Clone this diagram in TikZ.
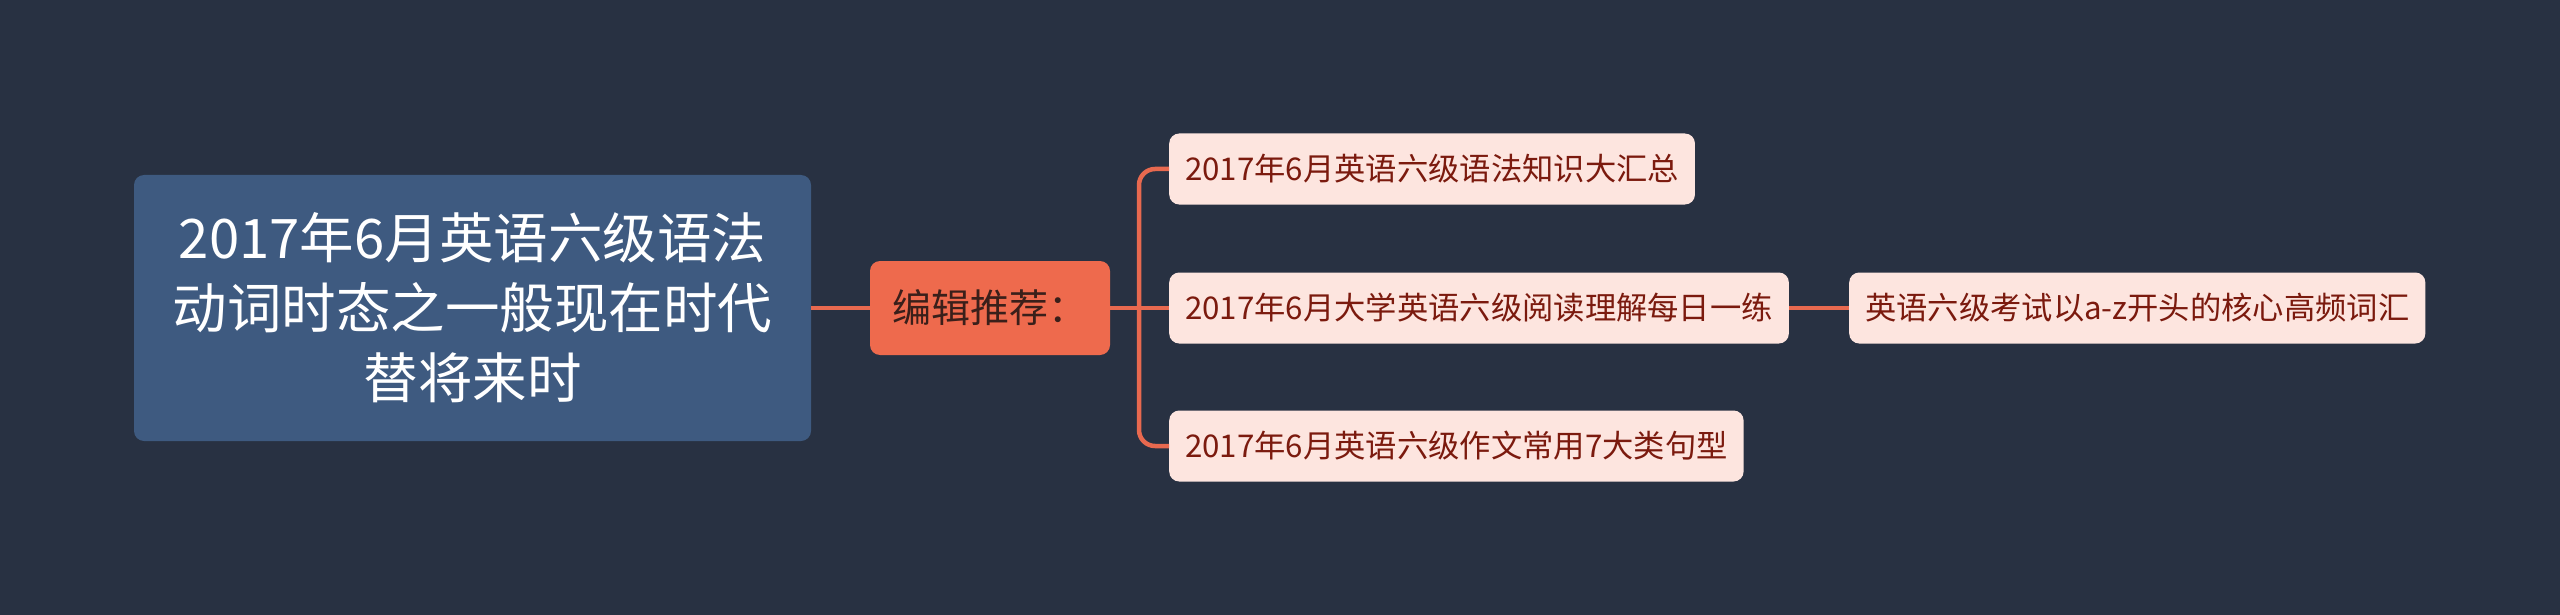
\documentclass[tikz,border=0pt]{standalone}
\usepackage{fontspec}
\setmainfont{Noto Sans CJK SC}
\definecolor{bg}{HTML}{283142}
\definecolor{rootfill}{HTML}{3E5A80}
\definecolor{edfill}{HTML}{EE6A4D}
\definecolor{edtext}{HTML}{3A1F1A}
\definecolor{chfill}{HTML}{FDE5DF}
\definecolor{chtext}{HTML}{7B1A0E}
\definecolor{linkc}{HTML}{E8694F}
\tikzset{
  rootbox/.style={fill=rootfill, rounded corners=10pt, text=white, align=center,
    minimum width=677pt, minimum height=266pt, inner sep=0pt,
    font=\fontsize{54.5}{70}\selectfont},
  edbox/.style={fill=edfill, rounded corners=10pt, text=edtext,
    minimum width=240pt, minimum height=94pt, inner sep=0pt,
    font=\fontsize{39}{44}\selectfont},
  chbox/.style={fill=chfill, rounded corners=10pt, text=chtext, anchor=west,
    minimum height=71pt, inner xsep=16pt, inner ysep=0pt,
    font=\fontsize{31.3}{38}\selectfont},
  link/.style={draw=linkc, line width=4.5pt},
}
\begin{document}
\begin{tikzpicture}[x=1pt,y=1pt]
\fill[bg] (0,0) rectangle (2560,-615);
\useasboundingbox (0,0) rectangle (2560,-615);
\node[rootbox] (root) at (472.5,-308) {2017年6月英语六级语法\\动词时态之一般现在时代\\替将来时};
\node[edbox] (ed) at (990,-308) {编辑推荐：};
\node[chbox] (c1) at (1169,-169) {2017年6月英语六级语法知识大汇总};
\node[chbox] (c2) at (1169,-308) {2017年6月大学英语六级阅读理解每日一练};
\node[chbox] (c3) at (1169,-446) {2017年6月英语六级作文常用7大类句型};
\node[chbox] (g) at (1849,-308) {英语六级考试以a-z开头的核心高频词汇};
\coordinate (bus) at (1139,-308);
\path[link] (root.east) -- (ed.west);
\path[link] (ed.east) -- (c2.west);
\path[link, rounded corners=16pt] (c1.west) -- (c1.west -| bus) -- (c3.west -| bus) -- (c3.west);
\path[link] (c2.east) -- (g.west);
\end{tikzpicture}
\end{document}
